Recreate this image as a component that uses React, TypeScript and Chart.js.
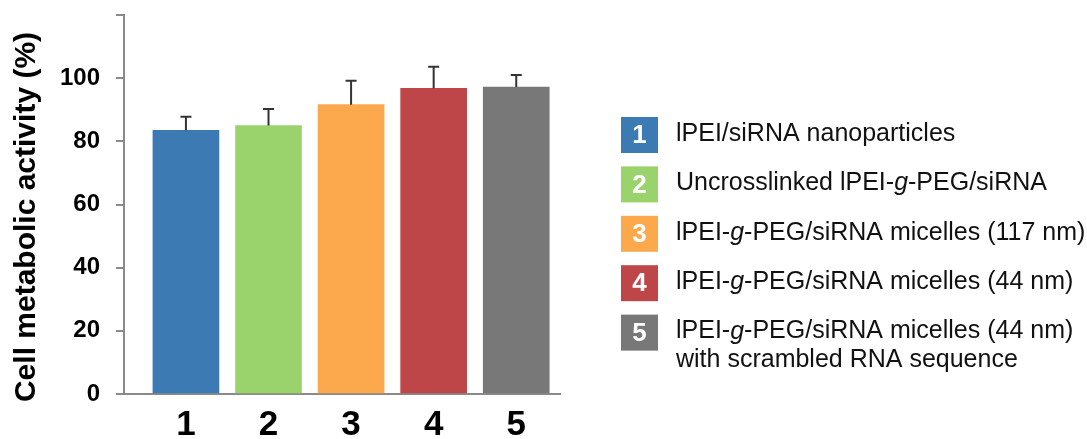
import { useEffect, useRef } from 'react';
import { Chart, registerables } from 'chart.js';

Chart.register(...registerables);

// Treatment groups and measured cell metabolic activity (%), mean and upper SD
const groups = [1, 2, 3, 4, 5];
const activity = [83.5, 85.0, 91.6, 96.8, 97.2];
const errors = [4.3, 5.2, 7.6, 6.8, 3.8];
const colors = ['#3b7ab3', '#9ad36c', '#fca84c', '#bf4648', '#787878'];

// Legend entries; *...* marks italic text, \n a line break
const legendLabels = [
  'lPEI/siRNA nanoparticles',
  'Uncrosslinked lPEI-*g*-PEG/siRNA',
  'lPEI-*g*-PEG/siRNA micelles (117 nm)',
  'lPEI-*g*-PEG/siRNA micelles (44 nm)',
  'lPEI-*g*-PEG/siRNA micelles (44 nm)\nwith scrambled RNA sequence',
];

const yTitle = 'Cell metabolic activity (%)';
const yTicks = [0, 20, 40, 60, 80, 100, 120];

const FONT = '"Liberation Sans", Arial, Helvetica, sans-serif';
const AXIS_COLOR = '#8a8a8a';

// Upward error bars with a short cap
const errorBars = {
  id: 'errorBars',
  afterDatasetsDraw(chart: any) {
    const meta = chart.getDatasetMeta(0);
    const y = chart.scales.y;
    const ctx = chart.ctx;
    ctx.save();
    ctx.strokeStyle = '#333333';
    ctx.lineWidth = 2;
    meta.data.forEach((bar: any, i: number) => {
      const base = y.getPixelForValue(activity[i]);
      const top = y.getPixelForValue(activity[i] + errors[i]);
      ctx.beginPath();
      ctx.moveTo(bar.x, base);
      ctx.lineTo(bar.x, top);
      ctx.moveTo(bar.x - 5.5, top);
      ctx.lineTo(bar.x + 5.5, top);
      ctx.stroke();
    });
    ctx.restore();
  },
};

function drawRich(ctx: CanvasRenderingContext2D, text: string, x: number, y: number) {
  const parts = text.split('*');
  let cx = x;
  parts.forEach((p, i) => {
    ctx.font = `${i % 2 ? 'italic ' : ''}25px ${FONT}`;
    ctx.fillText(p, cx, y);
    cx += ctx.measureText(p).width;
  });
}

// Rotated y-axis title and the numbered colour legend on the right
const decorations = {
  id: 'decorations',
  afterDraw(chart: any) {
    const ctx: CanvasRenderingContext2D = chart.ctx;
    ctx.save();
    ctx.fillStyle = '#000';
    ctx.font = `bold 30px ${FONT}`;
    ctx.textAlign = 'center';
    ctx.textBaseline = 'alphabetic';
    ctx.translate(35, 217);
    ctx.rotate(-Math.PI / 2);
    ctx.fillText(yTitle, 0, 0);
    ctx.restore();

    const boxX = 621;
    const boxW = 37;
    const boxH = 36;
    const firstTop = 117;
    const step = 49.4;
    const textX = 676;
    ctx.save();
    legendLabels.forEach((label, i) => {
      const top = firstTop + i * step;
      ctx.fillStyle = colors[i];
      ctx.fillRect(boxX, top, boxW, boxH);
      ctx.fillStyle = '#ffffff';
      ctx.font = `bold 26px ${FONT}`;
      ctx.textAlign = 'center';
      ctx.textBaseline = 'middle';
      ctx.fillText(String(groups[i]), boxX + boxW / 2, top + boxH / 2 + 1);

      ctx.fillStyle = '#111111';
      ctx.textAlign = 'left';
      label.split('\n').forEach((line, j) => {
        drawRich(ctx, line, textX, top + 17 + j * 28.5);
      });
    });
    ctx.restore();
  },
};

export default function App() {
  const canvasRef = useRef<HTMLCanvasElement | null>(null);

  useEffect(() => {
    if (!canvasRef.current) return;
    const chart = new Chart(canvasRef.current, {
      type: 'bar',
      data: {
        datasets: [
          {
            data: groups.map((g, i) => ({ x: g, y: activity[i] })),
            backgroundColor: colors,
            borderWidth: 0,
            barThickness: 66,
          },
        ],
      },
      options: {
        responsive: false,
        animation: false,
        layout: { padding: { left: 0, top: 15, right: 527, bottom: 0 } },
        plugins: { legend: { display: false }, tooltip: { enabled: false } },
        scales: {
          x: {
            type: 'linear',
            offset: false,
            min: 0.25,
            max: 5.53,
            afterBuildTicks: (s: any) => {
              s.ticks = groups.map((v) => ({ value: v }));
            },
            afterFit: (s: any) => {
              s.height = 45;
              s.paddingLeft = 0;
              s.paddingRight = 0;
            },
            grid: { display: true, drawOnChartArea: false, drawTicks: false },
            border: { display: true, color: AXIS_COLOR, width: 2 },
            ticks: {
              color: '#000',
              font: { family: FONT, size: 35, weight: 'bold' },
              padding: 10,
              maxRotation: 0,
              autoSkip: false,
              callback: (v: any) => String(v),
            },
          },
          y: {
            min: yTicks[0],
            max: yTicks[yTicks.length - 1],
            afterBuildTicks: (s: any) => {
              s.ticks = yTicks.map((v) => ({ value: v }));
            },
            afterFit: (s: any) => {
              s.width = 124;
              s.paddingTop = 0;
              s.paddingBottom = 0;
            },
            grid: {
              drawOnChartArea: false,
              drawTicks: true,
              tickLength: 8,
              color: AXIS_COLOR,
              lineWidth: 2,
            },
            border: { display: true, color: AXIS_COLOR, width: 2 },
            ticks: {
              color: '#000',
              font: { family: FONT, size: 24, weight: 'bold' },
              padding: 16,
              callback: (v: any) => (v === 120 ? '' : String(v)),
            },
          },
        },
      },
      plugins: [errorBars, decorations],
    } as any);
    return () => chart.destroy();
  }, []);

  return (
    <div style={{ position: 'fixed', left: 0, top: 0, width: 1087, height: 439, background: '#fff' }}>
      <canvas ref={canvasRef} width={1087} height={439} style={{ display: 'block' }} />
    </div>
  );
}
